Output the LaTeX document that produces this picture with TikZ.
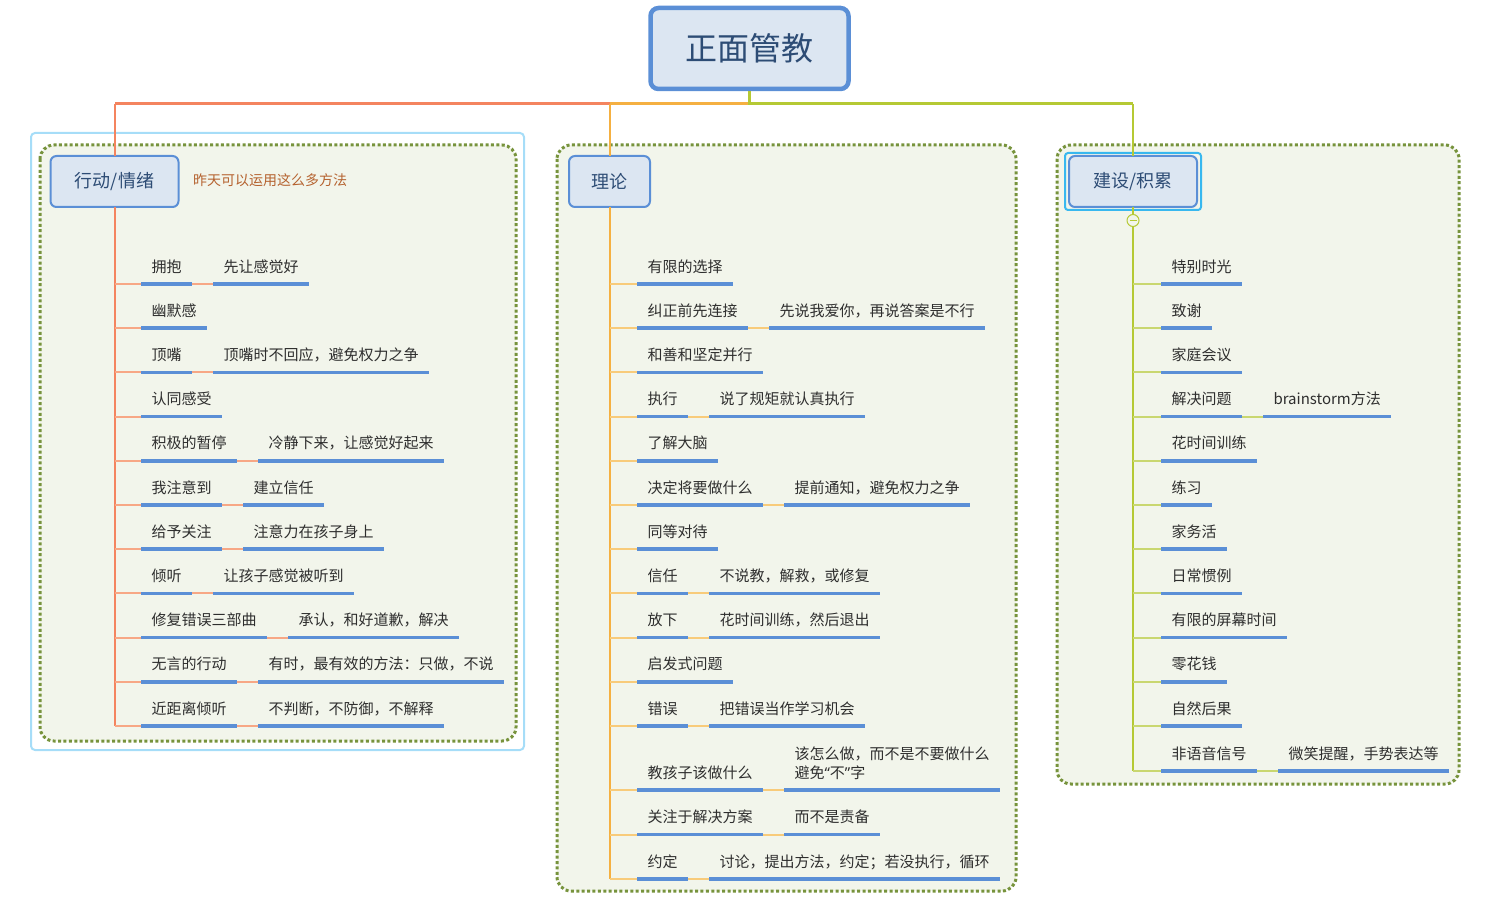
\documentclass[tikz,border=0pt]{standalone}
\usepackage{fontspec}
\setmainfont{Noto Sans CJK SC}
\newfontfamily\latinq{Noto Sans}
\definecolor{rootfill}{HTML}{DCE6F2}
\definecolor{bluebd}{HTML}{5B8FD6}
\definecolor{topictxt}{HTML}{2D4C75}
\definecolor{itemtxt}{HTML}{2E2E2E}
\definecolor{uline}{HTML}{5B8FD6}
\definecolor{framec}{HTML}{77933C}
\definecolor{framefill}{HTML}{F2F5EB}
\definecolor{selblue}{HTML}{A6DDF8}
\definecolor{selbluetwo}{HTML}{38B8EF}
\definecolor{cRed}{HTML}{F4845F}
\definecolor{cRedL}{HTML}{F7A785}
\definecolor{cOra}{HTML}{F5B041}
\definecolor{cOraL}{HTML}{F8CB7A}
\definecolor{cGrn}{HTML}{B5C934}
\definecolor{cGrnL}{HTML}{C9D770}
\definecolor{notec}{HTML}{B5622F}
\begin{document}
\begin{tikzpicture}[x=1pt,y=-1pt,
  itemnode/.style={anchor=south west, inner xsep=10.5pt, inner ysep=0pt, text height=12pt, text depth=12pt, font=\fontsize{15pt}{19pt}\selectfont, text=itemtxt, outer sep=0pt},
  ul/.style={draw=uline, line width=3.5pt},
  topicbox/.style={draw=bluebd, fill=rootfill, line width=2pt, rounded corners=6pt, text=topictxt, font=\fontsize{18pt}{22pt}\selectfont, minimum height=51pt, inner sep=0pt, outer sep=0pt},
  dotframe/.style={draw=framec, fill=framefill, line width=3pt, dash pattern=on 3pt off 2.4pt, rounded corners=14pt},
  lvl/.style={draw=cRed, line width=2pt},
  lbr/.style={draw=cRedL, line width=2pt},
  mvl/.style={draw=cOra, line width=2pt},
  mbr/.style={draw=cOraL, line width=2pt},
  rvl/.style={draw=cGrn, line width=2pt},
  rbr/.style={draw=cGrnL, line width=2pt},
]
\useasboundingbox (0,0) rectangle (1495,901);

% frames
\draw[selblue, line width=2pt, fill=white, rounded corners=4pt] (31,133) rectangle (524,750);
\path[dotframe] (40,145) rectangle (516,741);
\path[dotframe] (557,145) rectangle (1016,891);
\path[dotframe] (1057,145) rectangle (1459,784);

% root and topics
\node[draw=bluebd, fill=rootfill, line width=4.5pt, rounded corners=8pt, minimum width=198pt, minimum height=81pt, inner sep=0pt, text=topictxt, font=\fontsize{32pt}{38pt}\selectfont] (root) at (749.5,48.5) {正面管教};
\node[topicbox, minimum width=128pt] (t1) at (114.5,181.5) {行动/情绪};
\node[topicbox, minimum width=81pt] (t2) at (609.5,181.5) {理论};
\draw[selbluetwo, line width=2pt, rounded corners=3pt] (1065,153) rectangle (1201,210);
\node[topicbox, minimum width=128pt] (t3) at (1133,181.5) {建设/积累};
\node[anchor=west, text=notec, font=\fontsize{14pt}{17pt}\selectfont, inner sep=0pt] (note) at (193,180) {昨天可以运用这么多方法};

% main connectors
\coordinate (j) at (749.5,104);
\draw[cRed, line width=3pt] (root.south) -- (j) -- (j -| t1.north);
\draw[cRed, line width=2pt] (j -| t1.north) -- (t1.north);
\draw[cOra, line width=3pt] (j) -- (j -| t2.north);
\draw[cOra, line width=2pt] (j -| t2.north) -- (t2.north);
\draw[cGrn, line width=3pt] (root.south) -- (j) -- (j -| t3.north);
\draw[cGrn, line width=2pt] (j -| t3.north) -- (t3.north);

% ---------- left group ----------
\node[itemnode] (a1) at (141,284) {拥抱};
\node[itemnode] (a1s) at ([xshift=21pt]a1.south east) {先让感觉好};
\node[itemnode] (a2) at (141,328.2) {幽默感};
\node[itemnode] (a3) at (141,372.4) {顶嘴};
\node[itemnode] (a3s) at ([xshift=21pt]a3.south east) {顶嘴时不回应，避免权力之争};
\node[itemnode] (a4) at (141,416.6) {认同感受};
\node[itemnode] (a5) at (141,460.8) {积极的暂停};
\node[itemnode] (a5s) at ([xshift=21pt]a5.south east) {冷静下来，让感觉好起来};
\node[itemnode] (a6) at (141,505) {我注意到};
\node[itemnode] (a6s) at ([xshift=21pt]a6.south east) {建立信任};
\node[itemnode] (a7) at (141,549.2) {给予关注};
\node[itemnode] (a7s) at ([xshift=21pt]a7.south east) {注意力在孩子身上};
\node[itemnode] (a8) at (141,593.4) {倾听};
\node[itemnode] (a8s) at ([xshift=21pt]a8.south east) {让孩子感觉被听到};
\node[itemnode] (a9) at (141,637.6) {修复错误三部曲};
\node[itemnode] (a9s) at ([xshift=21pt]a9.south east) {承认，和好道歉，解决};
\node[itemnode] (a10) at (141,681.8) {无言的行动};
\node[itemnode] (a10s) at ([xshift=21pt]a10.south east) {有时，最有效的方法：只做，不说};
\node[itemnode] (a11) at (141,726) {近距离倾听};
\node[itemnode] (a11s) at ([xshift=21pt]a11.south east) {不判断，不防御，不解释};

\draw[lvl] (t1.south) -- (t1.south |- a11.south west);
\foreach \n in {a1,a2,a3,a4,a5,a6,a7,a8,a9,a10,a11}
  \draw[lbr] (t1.south |- \n.south west) -- (\n.south west);
\foreach \n in {a1,a3,a5,a6,a7,a8,a9,a10,a11}
  \draw[lbr] (\n.south east) -- (\n s.south west);
\foreach \n in {a1,a1s,a2,a3,a3s,a4,a5,a5s,a6,a6s,a7,a7s,a8,a8s,a9,a9s,a10,a10s,a11,a11s}
  \draw[ul] (\n.south west) -- (\n.south east);

% ---------- middle group ----------
\node[itemnode] (b1) at (637,284) {有限的选择};
\node[itemnode] (b2) at (637,328.2) {纠正前先连接};
\node[itemnode] (b2s) at ([xshift=21pt]b2.south east) {先说我爱你，再说答案是不行};
\node[itemnode] (b3) at (637,372.4) {和善和坚定并行};
\node[itemnode] (b4) at (637,416.6) {执行};
\node[itemnode] (b4s) at ([xshift=21pt]b4.south east) {说了规矩就认真执行};
\node[itemnode] (b5) at (637,460.8) {了解大脑};
\node[itemnode] (b6) at (637,505) {决定将要做什么};
\node[itemnode] (b6s) at ([xshift=21pt]b6.south east) {提前通知，避免权力之争};
\node[itemnode] (b7) at (637,549.2) {同等对待};
\node[itemnode] (b8) at (637,593.4) {信任};
\node[itemnode] (b8s) at ([xshift=21pt]b8.south east) {不说教，解救，或修复};
\node[itemnode] (b9) at (637,637.6) {放下};
\node[itemnode] (b9s) at ([xshift=21pt]b9.south east) {花时间训练，然后退出};
\node[itemnode] (b10) at (637,681.8) {启发式问题};
\node[itemnode] (b11) at (637,726) {错误};
\node[itemnode] (b11s) at ([xshift=21pt]b11.south east) {把错误当作学习机会};
\node[itemnode] (b12) at (637,790) {教孩子该做什么};
\node[itemnode, text height=31pt] (b12s) at ([xshift=21pt]b12.south east) {\vbox{\hbox{该怎么做，而不是不要做什么}\hbox{避免{\latinq “}不{\latinq ”}字}}};
\node[itemnode] (b13) at (637,834.5) {关注于解决方案};
\node[itemnode] (b13s) at ([xshift=21pt]b13.south east) {而不是责备};
\node[itemnode] (b14) at (637,879) {约定};
\node[itemnode] (b14s) at ([xshift=21pt]b14.south east) {讨论，提出方法，约定；若没执行，循环};

\draw[mvl] (t2.south) -- (t2.south |- b14.south west);
\foreach \n in {b1,b2,b3,b4,b5,b6,b7,b8,b9,b10,b11,b12,b13,b14}
  \draw[mbr] (t2.south |- \n.south west) -- (\n.south west);
\foreach \n in {b2,b4,b6,b8,b9,b11,b12,b13,b14}
  \draw[mbr] (\n.south east) -- (\n s.south west);
\foreach \n in {b1,b2,b2s,b3,b4,b4s,b5,b6,b6s,b7,b8,b8s,b9,b9s,b10,b11,b11s,b12,b12s,b13,b13s,b14,b14s}
  \draw[ul] (\n.south west) -- (\n.south east);

% ---------- right group ----------
\node[itemnode] (c1) at (1161,284) {特别时光};
\node[itemnode] (c2) at (1161,328.2) {致谢};
\node[itemnode] (c3) at (1161,372.4) {家庭会议};
\node[itemnode] (c4) at (1161,416.6) {解决问题};
\node[itemnode] (c4s) at ([xshift=21pt]c4.south east) {brainstorm方法};
\node[itemnode] (c5) at (1161,460.8) {花时间训练};
\node[itemnode] (c6) at (1161,505) {练习};
\node[itemnode] (c7) at (1161,549.2) {家务活};
\node[itemnode] (c8) at (1161,593.4) {日常惯例};
\node[itemnode] (c9) at (1161,637.6) {有限的屏幕时间};
\node[itemnode] (c10) at (1161,681.8) {零花钱};
\node[itemnode] (c11) at (1161,726) {自然后果};
\node[itemnode] (c12) at (1161,771) {非语音信号};
\node[itemnode] (c12s) at ([xshift=21pt]c12.south east) {微笑提醒，手势表达等};

\draw[rvl] (t3.south) -- (t3.south |- c12.south west);
\foreach \n in {c1,c2,c3,c4,c5,c6,c7,c8,c9,c10,c11,c12}
  \draw[rbr] (t3.south |- \n.south west) -- (\n.south west);
\foreach \n in {c4,c12}
  \draw[rbr] (\n.south east) -- (\n s.south west);
\foreach \n in {c1,c2,c3,c4,c4s,c5,c6,c7,c8,c9,c10,c11,c12,c12s}
  \draw[ul] (\n.south west) -- (\n.south east);

\node[circle, draw=cGrn, fill=framefill, line width=1pt, minimum size=12pt, inner sep=0pt] (col) at (1133,220.5) {};
\draw[cGrn, line width=1pt] ([xshift=-3.5pt]col.center) -- ([xshift=3.5pt]col.center);
\end{tikzpicture}
\end{document}
